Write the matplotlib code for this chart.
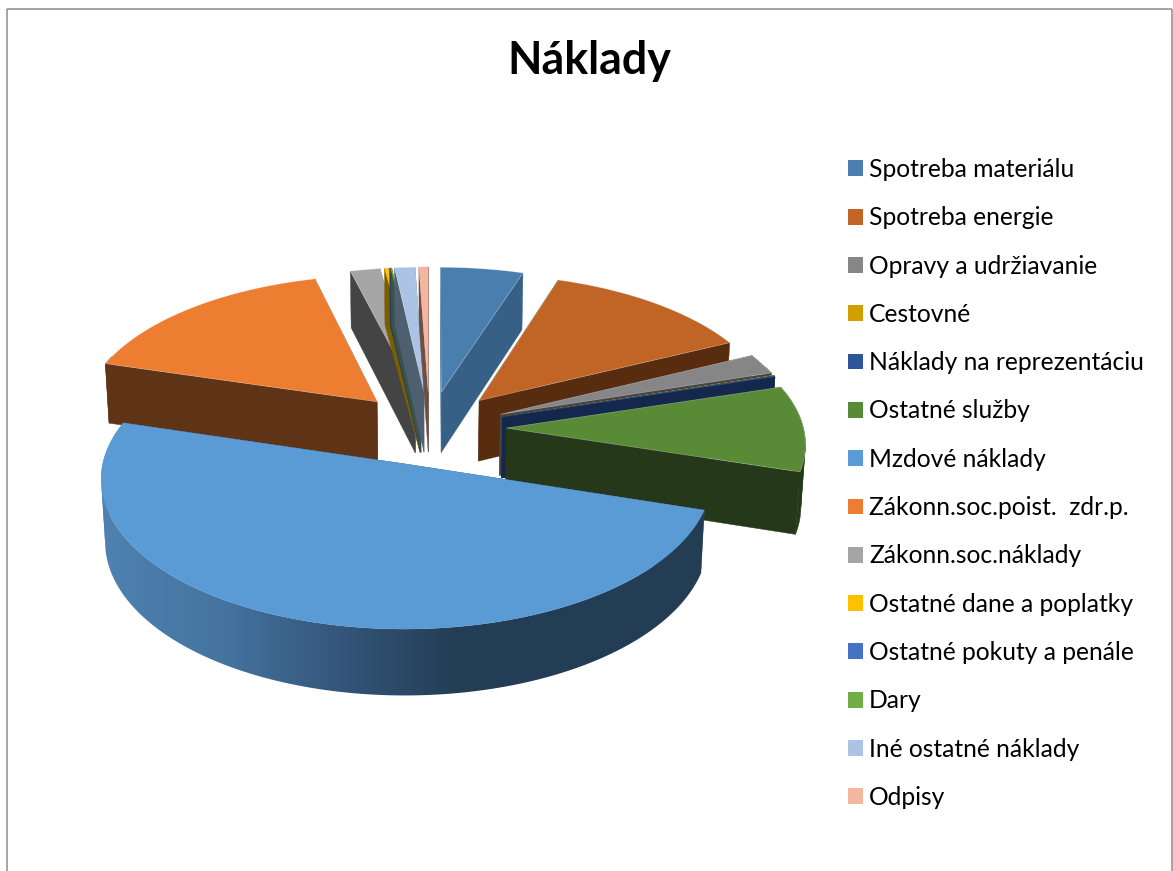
import numpy as np
import matplotlib
matplotlib.use("Agg")
import matplotlib.pyplot as plt
from matplotlib.patches import Polygon, Patch
from matplotlib.colors import to_rgb

# ---- data ----
categories = ["Spotreba materiálu", "Spotreba energie", "Opravy a udržiavanie", "Cestovné",
              "Náklady na reprezentáciu", "Ostatné služby", "Mzdové náklady",
              "Zákonn.soc.poist.  zdr.p.", "Zákonn.soc.náklady", "Ostatné dane a poplatky",
              "Ostatné pokuty a penále", "Dary", "Iné ostatné náklady", "Odpisy"]
values = [5.00, 12.80, 2.28, 0.05, 0.11, 9.59, 49.75, 16.45, 1.80, 0.27, 0.05, 0.06, 1.23, 0.56]
title = "Náklady"

# ---- style ----
top_colors = ["#4A7EAE", "#C06526", "#868686", "#D1A000", "#2E5597", "#598B37", "#5B9BD5",
              "#ED7D31", "#A5A5A5", "#FFC000", "#4472C4", "#70AD47", "#ABC3E4", "#F4B6A0"]
side_colors = ["#376087", "#582C0F", "#444444", "#6B5500", "#14284D", "#26381A", "#385C80",
               "#5F3315", "#444444", "#7A5F00", "#1C3A60", "#3C5050", "#4E6070", "#6B5045"]
rim_stops = ["#5082B0", "#44749F", "#375A80", "#233D55", "#233D55"]
rim_stop_x = [100, 223, 323, 457, 720]
draw_order = [7, 8, 9, 10, 11, 12, 13, 0, 1, 2, 3, 4, 5, 6]

CX, CY = 429.5, 428.0
A, B, D = 297.0, 142.7, 62.0
PY, PZ = 0.0917, 0.012
EXPLODE = 0.259

plt.rcParams["font.family"] = ["Lato", "DejaVu Sans"]
fig = plt.figure(figsize=(11.73, 8.71), dpi=100, facecolor="white")
ax = fig.add_axes([0, 0, 1, 1])
ax.axis("off")


def project(X, Y, depth):
    w = 1 + PY * Y + PZ * depth
    return CX + A * X / w, CY + (D * depth - B * Y) / w


edges = np.concatenate([[0], np.cumsum(values)]) / np.sum(values) * 2 * np.pi
MZD = categories.index("Mzdové náklady")

for i in draw_order:
    a0, a1 = edges[i], edges[i + 1]
    mid = (a0 + a1) / 2
    ox, oy = EXPLODE * np.sin(mid), EXPLODE * np.cos(mid)
    n = max(int((a1 - a0) / 0.01), 2)
    th = np.linspace(a0, a1, n)
    X, Y = ox + np.sin(th), oy + np.cos(th)
    top = np.column_stack(project(X, Y, 0))
    bot = np.column_stack(project(X, Y, 1))
    apex_t = project(ox, oy, 0)
    apex_b = project(ox, oy, 1)
    # radial faces
    for k in (0, -1):
        ax.add_patch(Polygon([apex_t, top[k], bot[k], apex_b], closed=True,
                             fc=side_colors[i], ec=side_colors[i], lw=0.3, zorder=2))
    # outer rim, split where it folds at the left and right silhouette
    front = np.where(np.cos(th) < 0.35)[0]
    if len(front) >= 2:
        lo, hi = front[0], front[-1]
        cuts = sorted({lo, hi, int(np.argmin(top[:, 0])), int(np.argmax(top[:, 0]))})
        cuts = [c for c in cuts if lo <= c <= hi]
        for s, e in zip(cuts[:-1], cuts[1:]):
            outline = np.vstack([top[s:e + 1], bot[s:e + 1][::-1]])
            if i == MZD:
                xs = np.linspace(90, 720, 400)
                rgb = np.array([to_rgb(c) for c in rim_stops])
                grad = np.stack([np.interp(xs, rim_stop_x, rgb[:, c]) for c in range(3)],
                                axis=-1)[None, :, :]
                im = ax.imshow(grad, extent=(90, 720, 710, 400), aspect="auto", zorder=2,
                               interpolation="bilinear")
                im.set_clip_path(Polygon(outline, closed=True, transform=ax.transData))
            else:
                ax.add_patch(Polygon(outline, closed=True, fc=side_colors[i],
                                     ec=side_colors[i], lw=0.3, zorder=2))
    # top face
    pale_edge = a1 - a0 > 0.05 and i != MZD
    ax.add_patch(Polygon(np.vstack([[apex_t], top]), closed=True, fc=top_colors[i],
                         ec=(1, 1, 1, 0.35) if pale_edge else top_colors[i],
                         lw=0.5 if pale_edge else 0.2, zorder=2))

ax.set_xlim(0, 1173)
ax.set_ylim(871, 0)

ax.text(589.5, 61, title, ha="center", va="center", fontsize=32.2, fontweight="bold", color="black")

handles = [Patch(fc=c, ec="none") for c in top_colors]
fs = 17.7
px = fs * 100 / 72
ax.legend(handles, categories, loc="upper left", bbox_to_anchor=(848, 158),
          bbox_transform=ax.transData, frameon=False, fontsize=fs,
          handlelength=15 / px, handleheight=15 / px, handletextpad=6 / px,
          labelspacing=25.3 / px, borderpad=0, borderaxespad=0,
          labelcolor="black")

border = "#8C8C8C"
ax.plot([6.7, 6.7], [871, 9], color=border, lw=1.1, solid_capstyle="butt")
ax.plot([6.7, 1171.5], [9, 9], color=border, lw=1.1, solid_capstyle="butt")
ax.plot([1171.5, 1171.5], [9, 871], color=border, lw=1.1, solid_capstyle="butt")

fig.savefig("out.png", dpi=100, facecolor="white")
